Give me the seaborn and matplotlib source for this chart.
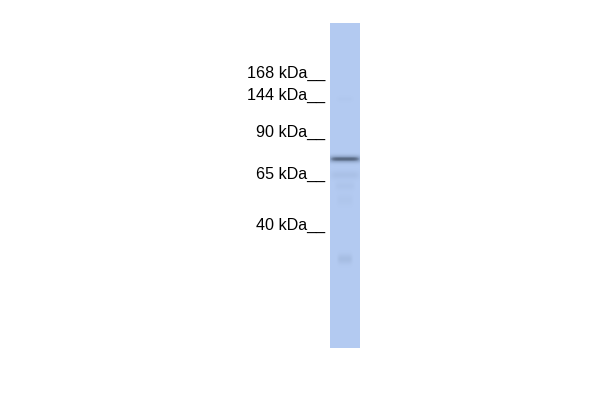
import numpy as np
import matplotlib
matplotlib.use("Agg")
import matplotlib.pyplot as plt
import seaborn as sns
from matplotlib.colors import LinearSegmentedColormap

sns.set_style("white")
plt.rcParams["font.family"] = ["Liberation Sans", "DejaVu Sans"]

# marker labels and where they sit (pixel rows of the image)
marker_labels = ["168 kDa", "144 kDa", "90 kDa", "65 kDa", "40 kDa"]
marker_rows = [77.5, 100, 137, 179, 230]

# bands seen in the lane: row, darkness, thickness, horizontal spread
band_rows = [99, 159, 175, 186, 200, 259]
band_strength = [0.04, 0.85, 0.13, 0.08, 0.06, 0.18]
band_width = [2.0, 2.4, 3.0, 3.0, 4.0, 3.5]
band_spread = [0.5, 1.0, 0.9, 0.6, 0.5, 0.45]

lane_left, lane_right = 330, 360
lane_top, lane_bottom = 23, 348

W, H = 600, 400
fig = plt.figure(figsize=(6, 4), dpi=100)
ax = fig.add_axes([0, 0, 1, 1])
ax.set_xlim(0, W)
ax.set_ylim(H, 0)
ax.axis("off")

for lab, row in zip(marker_labels, marker_rows):
    ax.text(325, row, lab + "__", ha="right", va="baseline",
            fontsize=11.6, color="black")

# lane image
rows = np.arange(lane_top, lane_bottom) + 0.5
cols = np.linspace(-1, 1, lane_right - lane_left)
img = np.zeros((len(rows), len(cols)))
for r, s, w, sp in zip(band_rows, band_strength, band_width, band_spread):
    vert = np.exp(-0.5 * ((rows - r) / w) ** 2)
    horiz = np.exp(-0.5 * (cols / sp) ** 6)
    img += s * np.outer(vert, horiz)
img = np.clip(img, 0, 1)

cmap = LinearSegmentedColormap.from_list(
    "lane", ["#b3caf1", "#8fa5c8", "#3f4d63"])

lax = fig.add_axes([lane_left / W, 1 - lane_bottom / H,
                    (lane_right - lane_left) / W,
                    (lane_bottom - lane_top) / H])
sns.heatmap(img, ax=lax, cmap=cmap, vmin=0, vmax=1, cbar=False,
            xticklabels=False, yticklabels=False)
lax.axis("off")

fig.savefig("out.png", dpi=100, facecolor="white")
